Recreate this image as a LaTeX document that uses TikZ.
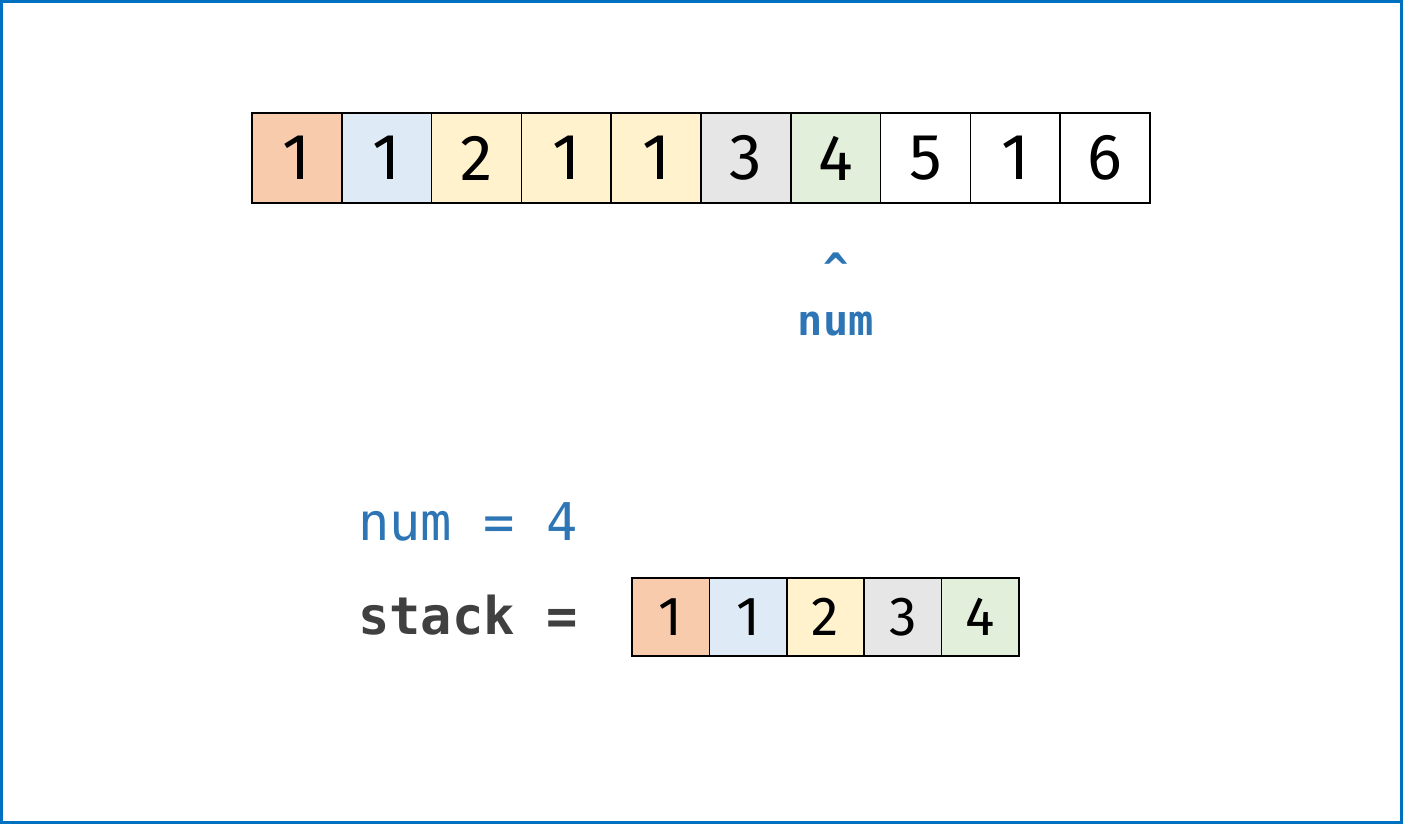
\documentclass[tikz,border=0pt]{standalone}
\usepackage{fontspec}
\usetikzlibrary{calc}
\setmainfont{Fira Sans}
\newfontfamily\codefont{DejaVu Sans Mono}
\definecolor{corange}{HTML}{F8CBAD}
\definecolor{cblue}{HTML}{DEEBF7}
\definecolor{cyellow}{HTML}{FFF2CC}
\definecolor{cgray}{HTML}{E7E6E6}
\definecolor{cgreen}{HTML}{E2EFDA}
\definecolor{codeblue}{HTML}{2E75B6}
\definecolor{codegray}{HTML}{404040}
\definecolor{frameblue}{HTML}{0070C0}
\begin{document}
\begin{tikzpicture}[x=1pt,y=-1pt,
  bigcell/.style={draw=black,line width=1.5pt,minimum width=89.8pt,minimum height=90pt,
    inner sep=0pt,font=\fontsize{65}{65}\selectfont},
  smallcell/.style={draw=black,line width=1.5pt,minimum width=77.4pt,minimum height=78pt,
    inner sep=0pt,font=\fontsize{55}{55}\selectfont},
  ptrtext/.style={inner sep=0pt,text=codeblue,font=\codefont\bfseries\fontsize{42}{42}\selectfont},
  codetext/.style={inner sep=0pt,anchor=base west,font=\codefont\fontsize{52}{52}\selectfont}]
\useasboundingbox (0,0) rectangle (1403,824);
\draw[frameblue,line width=3pt] (1.5,1.5) rectangle (1401.5,822.5);
% top array
\foreach \v/\c [count=\i] in {1/corange,1/cblue,2/cyellow,1/cyellow,1/cyellow,3/cgray,4/cgreen,5/white,1/white,6/white}
  \node[bigcell,fill=\c] (c\i) at ({252+89.8*(\i-0.5)},158) {\v};
% pointer
\node[ptrtext,anchor=base] (caret) at ($(c7.center |- 0,283)$) {\textasciicircum};
\node[ptrtext] (ptrlabel) at ($(c7.center |- 0,324)$) {num};
% code lines
\node[codetext,text=codeblue] (numeq) at (358,540) {num = 4};
\node[codetext,text=codegray,font=\codefont\bfseries\fontsize{52}{52}\selectfont] (stackeq) at (358,634) {stack =};
% stack array
\foreach \v/\c [count=\i] in {1/corange,1/cblue,2/cyellow,3/cgray,4/cgreen}
  \node[smallcell,fill=\c] (s\i) at ({632+77.4*(\i-0.5)},617) {\v};
\end{tikzpicture}
\end{document}
